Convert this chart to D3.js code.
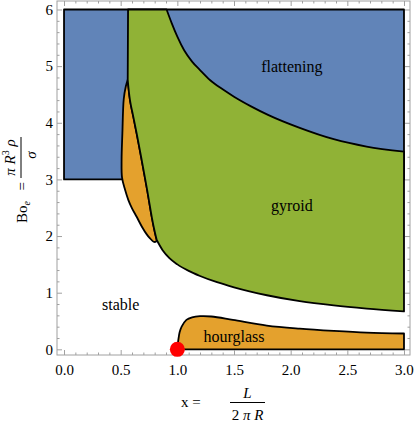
<!DOCTYPE html>
<html>
<head>
<meta charset="utf-8">
<script src="https://cdn.jsdelivr.net/npm/d3@7"></script>
<style>
  html, body { margin: 0; padding: 0; background: #fff; }
  svg { display: block; }
  text { font-family: "Liberation Serif", "Times New Roman", serif; }
</style>
</head>
<body>
<svg id="chart" width="415" height="422"></svg>
<script>
// ---------------- data ----------------
const xMajorTicks = [0, 0.5, 1, 1.5, 2, 2.5, 3];
const xTickLabels = ["0.0", "0.5", "1.0", "1.5", "2.0", "2.5", "3.0"];
const yMajorTicks = [0, 1, 2, 3, 4, 5, 6];
const yTickLabels = ["0", "1", "2", "3", "4", "5", "6"];

// flattening region (blue): box x 0..3, Bo 3..6 (partly covered by the other regions)
const flatteningBox = [[0, 3], [0, 6], [3, 6], [3, 3]];

// boundary between flattening (above) and gyroid (below)
const flatteningBoundary = [[0.905, 6.0], [0.95, 5.76], [1.0, 5.52], [1.06, 5.28], [1.13, 5.08],
  [1.2, 4.93], [1.29, 4.75], [1.4, 4.59], [1.5, 4.46], [1.65, 4.29], [1.8, 4.14],
  [2.08, 3.91], [2.38, 3.71], [2.67, 3.58], [3.0, 3.49]];

// left edge of gyroid region above the orange lobe
const gyroidLeftEdge = [[0.565, 6.0], [0.562, 4.76]];

// lower boundary of gyroid region
const gyroidLower = [[0.818, 1.93], [0.87, 1.75], [0.93, 1.61], [1.0, 1.50], [1.1, 1.385],
  [1.2, 1.295], [1.35, 1.185], [1.5, 1.095], [1.79, 0.955], [2.08, 0.85], [2.38, 0.775],
  [2.67, 0.72], [3.0, 0.67]];

// upper orange lobe: right edge (shared with gyroid) and left edge, from tip downwards
const lobeRight = [[0.562, 4.76], [0.582, 4.40], [0.612, 4.10], [0.641, 3.81], [0.68, 3.40],
  [0.715, 3.02], [0.745, 2.68], [0.774, 2.34], [0.80, 2.08], [0.818, 1.93]];
const lobeLeft = [[0.562, 4.76], [0.545, 4.64], [0.527, 4.42], [0.515, 3.82], [0.508, 3.35],
  [0.512, 3.03], [0.538, 2.82], [0.567, 2.64], [0.60, 2.49], [0.641, 2.34], [0.686, 2.17],
  [0.73, 2.03], [0.759, 1.96], [0.79, 1.90], [0.81, 1.90], [0.818, 1.93]];

// hourglass region: top boundary from (1,0) to x = 3
const hourglassTop = [[1.0, 0.0], [1.004, 0.1], [1.009, 0.17], [1.02, 0.30], [1.038, 0.40],
  [1.08, 0.52], [1.13, 0.565], [1.2, 0.585], [1.3, 0.58], [1.49, 0.52], [1.79, 0.42],
  [2.08, 0.365], [2.38, 0.325], [2.67, 0.295], [3.0, 0.28]];

const criticalPoint = [1.0, 0.0];

const regionLabels = ["flattening", "gyroid", "stable", "hourglass"];
const regionLabelAt = [[2.01, 4.99], [2.01, 2.52], [0.50, 0.78], [1.50, 0.22]];

// ---------------- drawing ----------------
const svg = d3.select("#chart");
const x = d3.scaleLinear().domain([-0.062, 3.053]).range([57, 410]);
const y = d3.scaleLinear().domain([-0.1, 6.15]).range([355, 1]);

const BLUE = "#6184b8", GREEN = "#90b236", ORANGE = "#e4a12d";

const smooth = d3.line().x(d => x(d[0])).y(d => y(d[1])).curve(d3.curveCatmullRom.alpha(0.5));
const smoothX = d3.line().x(d => x(d[0])).y(d => y(d[1])).curve(d3.curveMonotoneX);
const straight = d3.line().x(d => x(d[0])).y(d => y(d[1]));
function join(...segs) {
  return segs.map((s, i) => i === 0 ? s : s.replace(/^M/, "L")).join("") + "Z";
}
const rev = a => a.slice().reverse();

const regions = svg.append("g").attr("stroke", "#000").attr("stroke-width", 1.8)
  .attr("stroke-linejoin", "round");

// blue box
regions.append("path").attr("fill", BLUE).attr("d", straight(flatteningBox) + "Z");

// orange lobe
regions.append("path").attr("fill", ORANGE)
  .attr("d", join(smooth(lobeRight), smooth(rev(lobeLeft))));

// gyroid
regions.append("path").attr("fill", GREEN)
  .attr("d", join(
    straight([gyroidLeftEdge[0], flatteningBoundary[0]]),
    smoothX(flatteningBoundary),
    straight([flatteningBoundary[flatteningBoundary.length - 1], gyroidLower[gyroidLower.length - 1]]),
    smoothX(rev(gyroidLower)),
    smooth(rev(lobeRight)),
    straight(rev(gyroidLeftEdge))
  ));

// hourglass
const hgEnd = hourglassTop[hourglassTop.length - 1];
regions.append("path").attr("fill", ORANGE)
  .attr("d", join(smooth(hourglassTop), straight([hgEnd, [hgEnd[0], 0], hourglassTop[0]])));

// frame + ticks
const frame = svg.append("g");
const FR = "#a0a0a0";
const minorX = d3.range(0, 3.0001, 0.1).filter(v => Math.abs(v * 2 - Math.round(v * 2)) > 1e-6);
const minorY = d3.range(0, 6.0001, 0.2).filter(v => Math.abs(v - Math.round(v)) > 1e-6);

function styleAxis(g) {
  g.select(".domain").attr("stroke", FR);
  g.selectAll(".tick line").attr("stroke", FR);
  g.selectAll("text").attr("fill", "#000").style("font-size", "15px")
    .style("font-family", '"Liberation Serif", serif');
}
const addAxis = (axis, tx, ty) => frame.append("g").attr("transform", `translate(${tx},${ty})`).call(axis).call(styleAxis);

addAxis(d3.axisBottom(x).tickValues(minorX).tickSize(-2.5).tickFormat(""), 0, 355);
addAxis(d3.axisBottom(x).tickValues(xMajorTicks).tickSize(-5).tickPadding(9)
  .tickFormat((d, i) => xTickLabels[i]), 0, 355);
addAxis(d3.axisTop(x).tickValues(minorX).tickSize(-2.5).tickFormat(""), 0, 1);
addAxis(d3.axisTop(x).tickValues(xMajorTicks).tickSize(-5).tickFormat(""), 0, 1);
addAxis(d3.axisLeft(y).tickValues(minorY).tickSize(-2.5).tickFormat(""), 57, 0);
addAxis(d3.axisLeft(y).tickValues(yMajorTicks).tickSize(-5).tickPadding(4)
  .tickFormat((d, i) => yTickLabels[i]), 57, 0);
addAxis(d3.axisRight(y).tickValues(minorY).tickSize(-2.5).tickFormat(""), 410, 0);
addAxis(d3.axisRight(y).tickValues(yMajorTicks).tickSize(-5).tickFormat(""), 410, 0);
frame.selectAll(".domain").attr("d", null);
frame.append("rect").attr("x", 57).attr("y", 1).attr("width", 353).attr("height", 354)
  .attr("fill", "none").attr("stroke", FR).attr("stroke-width", 1);

// region labels
svg.append("g").selectAll("text").data(regionLabels).join("text")
  .attr("x", (d, i) => x(regionLabelAt[i][0]))
  .attr("y", (d, i) => y(regionLabelAt[i][1]))
  .attr("dy", "0.3em")
  .attr("text-anchor", "middle")
  .style("font-size", "16px")
  .text(d => d);

// critical point
svg.append("circle").attr("cx", x(criticalPoint[0])).attr("cy", y(criticalPoint[1]))
  .attr("r", 7.5).attr("fill", "#ff0000");

// x axis title: x = L / (2 π R)
const xt = svg.append("g").style("font-size", "15px");
xt.append("text").attr("x", 181).attr("y", 407).text("x =");
xt.append("text").attr("x", 247.5).attr("y", 398).attr("text-anchor", "middle")
  .style("font-style", "italic").text("L");
xt.append("line").attr("x1", 230).attr("x2", 265).attr("y1", 402.5).attr("y2", 402.5)
  .attr("stroke", "#000").attr("stroke-width", 1);
const den = xt.append("text").attr("x", 247.5).attr("y", 420).attr("text-anchor", "middle");
den.append("tspan").text("2 ");
den.append("tspan").style("font-style", "italic").text("π R");

// y axis title: Bo_e = π R^3 ρ / σ (rotated)
const yt = svg.append("g").attr("transform", "translate(21,180) rotate(-90)").style("font-size", "15px");
const bo = yt.append("text").attr("x", -43).attr("y", 6);
bo.append("tspan").text("Bo");
bo.append("tspan").attr("dy", 3).style("font-size", "10px").style("font-style", "italic").text("e");
yt.append("text").attr("x", -10.5).attr("y", 5.5).text("=");
yt.append("line").attr("x1", 2).attr("x2", 43).attr("y1", 0).attr("y2", 0)
  .attr("stroke", "#000").attr("stroke-width", 1);
const num = yt.append("text").attr("x", 22.5).attr("y", -6).attr("text-anchor", "middle")
  .style("font-style", "italic");
num.append("tspan").text("π R");
num.append("tspan").attr("dy", -6).style("font-size", "10px").style("font-style", "normal").text("3");
num.append("tspan").attr("dy", 6).text(" ρ");
yt.append("text").attr("x", 25).attr("y", 15).attr("text-anchor", "middle")
  .style("font-style", "italic").text("σ");
</script>
</body>
</html>
